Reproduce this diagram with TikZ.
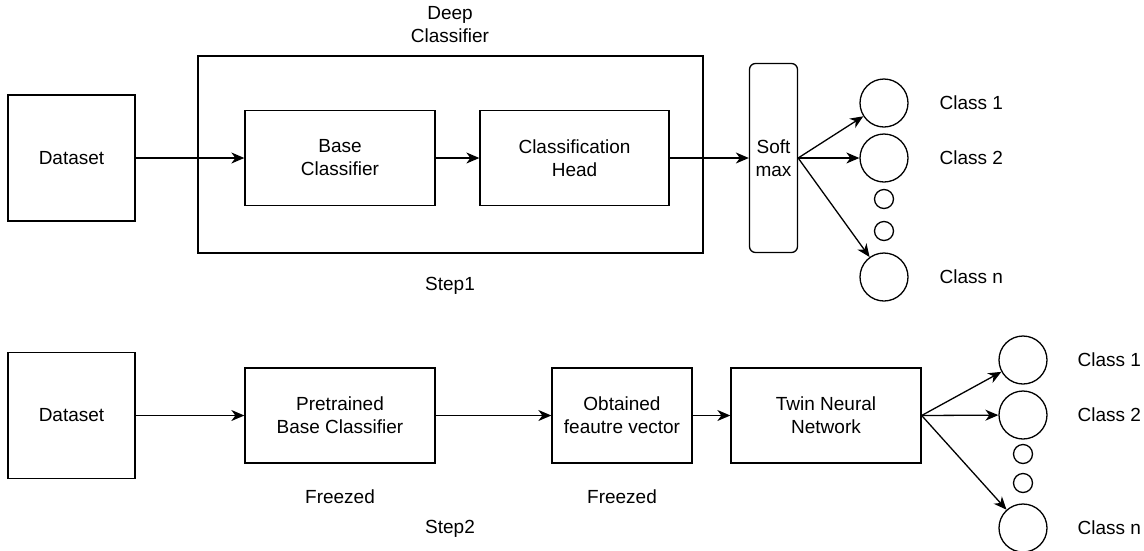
\documentclass[tikz,border=0pt]{standalone}
\usepackage{fontspec}
\setmainfont{Liberation Sans}
\usetikzlibrary{arrows.meta}

\begin{document}
\begin{tikzpicture}[x=1pt,y=-1pt,line width=1.3pt,
  font=\fontsize{19}{23}\selectfont,
  box/.style={draw,inner sep=0pt,align=center},
  outcircle/.style={draw,circle,inner sep=0pt,minimum size=48pt},
  dotcircle/.style={draw,circle,inner sep=0pt,minimum size=19pt},
  arr/.style={-{Stealth[length=13pt,width=11pt,inset=4pt]}},
  label/.style={align=center,inner sep=0pt}]
 \useasboundingbox (0,0) rectangle (1144,550);
 \def\ytop{158}  % middle row of step 1
 \def\ybot{415.5} % middle row of step 2

% step 1: deep classifier
 \node[box,minimum width=505pt,minimum height=197pt] (deep) at (450.5,154.5) {};
 \node[label] (deeptxt) at (450,25) {Deep\\Classifier};
 \node[box,minimum width=127pt,minimum height=126pt] (data1) at (71.5,\ytop) {Dataset};
 \node[box,minimum width=190pt,minimum height=95pt] (base) at (340,\ytop) {Base\\Classifier};
 \node[box,minimum width=189pt,minimum height=95pt] (head) at (574.5,\ytop) {Classification\\Head};
 \node[box,rounded corners=6pt,minimum width=48pt,minimum height=189pt] (soft) at (773.5,\ytop) {Soft\\max};
 \node[label] (step1) at (450,286) {Step1};

 % output classes of step 1
 \foreach \name/\y/\txt in {c1/103/Class 1, c2/158/Class 2, cn/277/Class n}{
   \node[outcircle] (\name) at (884,\y) {};
   \node[label,anchor=west] (\name txt) at (939,\y) {\txt};
 }
 \foreach \name/\y in {cd1/199, cd2/231}
   \node[dotcircle] (\name) at (884,\y) {};

 \draw[arr] (data1) -- (base);
 \draw[arr] (base) -- (head);
 \draw[arr] (head) -- (soft);
 \foreach \name in {c1,c2,cn}
   \draw[arr] (soft.east) -- (\name);

% step 2: twin network on frozen features
 \node[box,minimum width=127pt,minimum height=126pt] (data2) at (71.5,\ybot) {Dataset};
 \node[box,minimum width=190pt,minimum height=95pt] (pre) at (340,\ybot) {Pretrained\\Base Classifier};
 \node[box,minimum width=140pt,minimum height=95pt] (feat) at (622,\ybot) {Obtained\\feautre vector};
 \node[box,minimum width=190pt,minimum height=95pt] (twin) at (826,\ybot) {Twin Neural\\Network};
 \node[label] (frz1) at (340,497) {Freezed};
 \node[label] (frz2) at (622,497) {Freezed};
 \node[label] (step2) at (450,529) {Step2};

 % output classes of step 2
 \foreach \name/\y/\txt in {d1/360/Class 1, d2/415/Class 2, dn/528/Class n}{
   \node[outcircle] (\name) at (1023,\y) {};
   \node[label,anchor=west] (\name txt) at (1077,\y) {\txt};
 }
 \foreach \name/\y in {dd1/454, dd2/483}
   \node[dotcircle] (\name) at (1023,\y) {};

 \draw[arr] (data2) -- (pre);
 \draw[arr] (pre) -- (feat);
 \draw[arr] (feat) -- (twin);
 \foreach \name in {d1,d2,dn}
   \draw[arr] (twin.east) -- (\name);
\end{tikzpicture}
\end{document}
